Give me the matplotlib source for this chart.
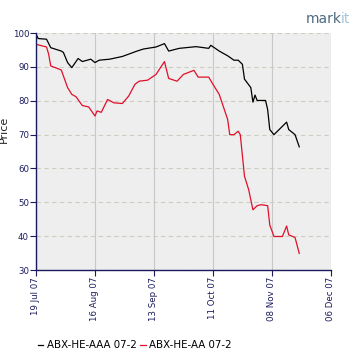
import matplotlib
matplotlib.use("Agg")
import matplotlib.pyplot as plt
import matplotlib.dates as mdates
import pandas as pd

# -------------------- Data --------------------
aaa_dates = ["2007-07-19", "2007-07-20", "2007-07-24", "2007-07-26", "2007-07-31",
             "2007-08-01", "2007-08-03", "2007-08-05", "2007-08-08", "2007-08-10",
             "2007-08-14", "2007-08-16", "2007-08-18", "2007-08-23", "2007-08-29",
             "2007-09-05", "2007-09-08", "2007-09-14", "2007-09-18", "2007-09-20",
             "2007-09-25", "2007-10-03", "2007-10-09", "2007-10-10", "2007-10-14",
             "2007-10-18", "2007-10-21", "2007-10-23", "2007-10-25", "2007-10-26",
             "2007-10-29", "2007-10-30", "2007-10-31", "2007-11-01", "2007-11-05",
             "2007-11-06", "2007-11-07", "2007-11-09", "2007-11-15", "2007-11-16",
             "2007-11-19", "2007-11-21"]
aaa_price = [99.8, 98.4, 98.2, 95.7, 94.7,
             94.3, 91.3, 89.8, 92.5, 91.6,
             92.3, 91.3, 92.0, 92.3, 93.1,
             94.7, 95.3, 95.9, 96.9, 94.7,
             95.5, 96.0, 95.5, 96.4, 94.7,
             93.3, 92.0, 92.0, 90.8, 86.4,
             83.9, 79.6, 81.7, 80.1, 80.1,
             77.4, 71.5, 70.0, 73.7, 71.5,
             70.0, 66.4]

aa_dates = ["2007-07-19", "2007-07-24", "2007-07-25", "2007-07-26", "2007-07-29",
            "2007-07-31", "2007-08-03", "2007-08-05", "2007-08-07", "2007-08-10",
            "2007-08-13", "2007-08-16", "2007-08-17", "2007-08-19", "2007-08-22",
            "2007-08-25", "2007-08-29", "2007-09-01", "2007-09-04", "2007-09-06",
            "2007-09-10", "2007-09-14", "2007-09-18", "2007-09-20", "2007-09-24",
            "2007-09-27", "2007-10-02", "2007-10-04", "2007-10-09", "2007-10-11",
            "2007-10-14", "2007-10-18", "2007-10-19", "2007-10-21", "2007-10-23",
            "2007-10-24", "2007-10-26", "2007-10-28", "2007-10-30", "2007-11-01",
            "2007-11-03", "2007-11-06", "2007-11-07", "2007-11-09", "2007-11-13",
            "2007-11-15", "2007-11-16", "2007-11-19", "2007-11-21"]
aa_price = [96.7, 95.9, 93.8, 90.3, 89.6,
            89.1, 83.9, 81.9, 81.2, 78.6,
            78.2, 75.5, 77.0, 76.6, 80.4,
            79.4, 79.2, 81.4, 84.9, 85.8,
            86.1, 87.8, 91.6, 86.6, 85.8,
            87.8, 89.0, 87.0, 87.0, 84.9,
            81.9, 74.5, 70.0, 70.0, 71.0,
            70.0, 57.7, 53.7, 47.8, 49.0,
            49.3, 49.0, 43.3, 39.9, 39.9,
            43.0, 40.4, 39.6, 34.9]

series_names = ["ABX-HE-AAA 07-2", "ABX-HE-AA 07-2"]
x_ticks = ["2007-07-19", "2007-08-16", "2007-09-13", "2007-10-11", "2007-11-08", "2007-12-06"]
y_ticks = [30, 40, 50, 60, 70, 80, 90, 100]

navy = "#1a1a5e"

# -------------------- Figure --------------------
fig = plt.figure(figsize=(3.6, 3.6), dpi=100)
ax = fig.add_axes([0.1, 0.25, 0.819, 0.658])
ax.set_facecolor("#eeeeee")

ax.plot(pd.to_datetime(aaa_dates), aaa_price, color="black", lw=0.9, label=series_names[0])
ax.plot(pd.to_datetime(aa_dates), aa_price, color="#e0102a", lw=0.9, label=series_names[1])

ax.set_xlim(pd.Timestamp(x_ticks[0]), pd.Timestamp(x_ticks[-1]))
ax.set_ylim(30, 100)
ax.set_xticks(pd.to_datetime(x_ticks))
ax.xaxis.set_major_formatter(mdates.DateFormatter("%d %b %y"))
ax.set_yticks(y_ticks)

# gridlines: solid vertical, dashed horizontal
ax.xaxis.grid(True, color="#c8c8c8", lw=0.8, ls="-")
ax.yaxis.grid(True, color="#d0ccc4", lw=0.8, ls=(0, (4, 3)))
ax.set_axisbelow(True)

for side in ["top", "right"]:
    ax.spines[side].set_visible(False)
for side in ["left", "bottom"]:
    ax.spines[side].set_color(navy)
    ax.spines[side].set_linewidth(1.0)

ax.tick_params(axis="both", colors=navy, length=4, width=0.8, direction="out",
               labelsize=6.2, pad=1)
plt.setp(ax.get_xticklabels(), rotation=90, color=navy)
plt.setp(ax.get_yticklabels(), color=navy)

fig.text(-0.004, 0.64, "Price", rotation=90, fontsize=8, color="#222222",
         ha="left", va="center")

# legend below the chart
fig.legend(loc="lower left", bbox_to_anchor=(0.095, 0.015), ncol=2, frameon=False,
           fontsize=7.4, handlelength=0.5, handletextpad=0.3, columnspacing=0.4,
           borderaxespad=0)

# logo text
fig.text(0.85, 0.935, "mark", fontsize=10, color="#4e6a80", ha="left", va="baseline")
fig.text(0.946, 0.935, "it", fontsize=10, color="#a8c4d8", ha="left", va="baseline")

fig.savefig("out.png", dpi=100)
